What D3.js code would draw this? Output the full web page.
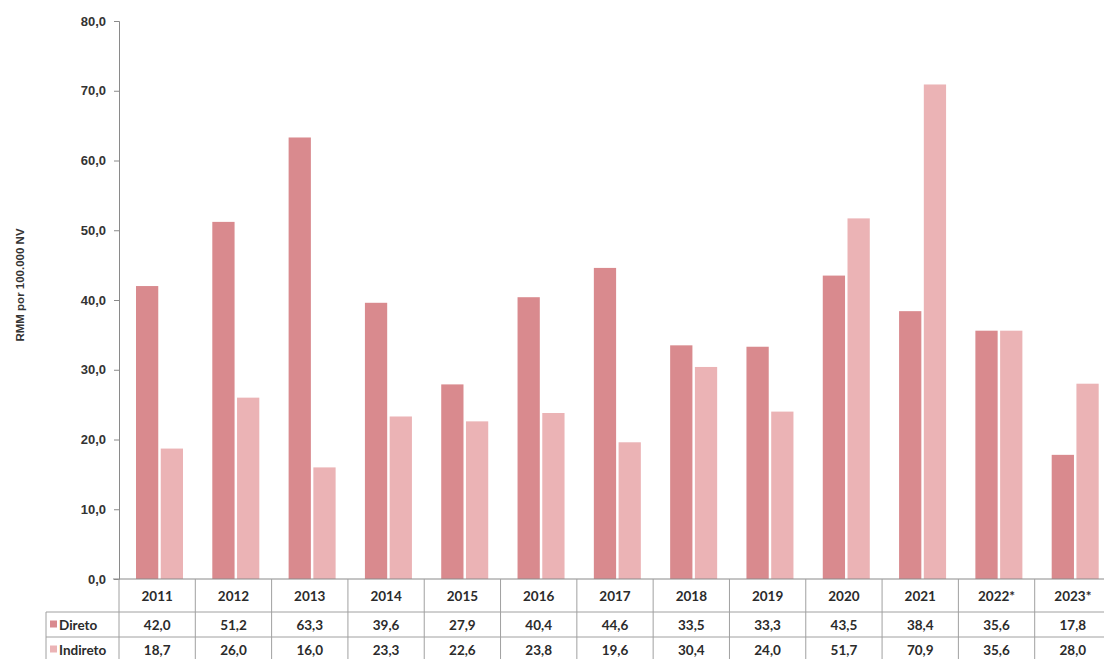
<!DOCTYPE html>
<html>
<head>
<meta charset="utf-8">
<script src="https://cdn.jsdelivr.net/npm/d3@7"></script>
<style>
  body { margin: 0; background: #fff; }
  svg { display: block; }
</style>
</head>
<body>
<script>
// dados
var anos = ["2011", "2012", "2013", "2014", "2015", "2016", "2017", "2018", "2019", "2020", "2021", "2022*", "2023*"]
var direto = [42.0, 51.2, 63.3, 39.6, 27.9, 40.4, 44.6, 33.5, 33.3, 43.5, 38.4, 35.6, 17.8]
var indireto = [18.7, 26.0, 16.0, 23.3, 22.6, 23.8, 19.6, 30.4, 24.0, 51.7, 70.9, 35.6, 28.0]
var series = ["Direto", "Indireto"]
var yTicks = [0, 10, 20, 30, 40, 50, 60, 70, 80]

var width = 1104
var height = 659
var margin = { top: 21, left: 119, right: -7, bottom: 80 }

var cores = { Direto: "#d98a8e", Indireto: "#ebb3b5" }
var fmt = function (v) { return d3.format(".1f")(v).replace(".", ",") }

var svg = d3.select("body").append("svg")
  .attr("width", width)
  .attr("height", height)

var escalaX = d3.scaleBand()
  .domain(anos)
  .range([margin.left, width - margin.right])

var escalaSub = d3.scaleBand()
  .domain(series)
  .range([17, 64])
  .paddingInner(0.1)

var escalaY = d3.scaleLinear()
  .domain([0, 80])
  .range([height - margin.bottom, margin.top])

var dados = anos.map(function (a, i) {
  return { ano: a, Direto: direto[i], Indireto: indireto[i] }
})

// barras
svg.append("g")
  .selectAll("g")
  .data(dados)
  .enter()
  .append("g")
  .attr("transform", d => "translate(" + escalaX(d.ano) + ",0)")
  .selectAll("rect")
  .data(d => series.map(s => ({ s: s, v: d[s] })))
  .enter()
  .append("rect")
  .attr("x", d => escalaSub(d.s))
  .attr("width", escalaSub.bandwidth())
  .attr("y", d => escalaY(d.v))
  .attr("height", d => escalaY(0) - escalaY(d.v))
  .attr("fill", d => cores[d.s])

// eixo y
var ejeY = d3.axisLeft(escalaY)
  .tickValues(yTicks)
  .tickFormat(fmt)
  .tickSize(5)
  .tickPadding(8)

var gY = svg.append("g")
  .attr("transform", "translate(" + margin.left + ",0)")
  .call(ejeY)
gY.select(".domain").attr("stroke", "#8a8a8a")
gY.selectAll(".tick line").attr("stroke", "#8a8a8a")
gY.selectAll("text")
  .attr("fill", "#333")
  .style("font-family", "Liberation Sans, Arial, sans-serif")
  .style("font-weight", "bold")
  .style("font-size", "13px")

svg.append("text")
  .attr("transform", "translate(24,285) rotate(-90)")
  .attr("text-anchor", "middle")
  .attr("fill", "#333")
  .style("font-family", "Liberation Sans, Arial, sans-serif")
  .style("font-weight", "bold")
  .style("font-size", "11.5px")
  .text("RMM por 100.000 NV")

// tabela de dados
var y0 = escalaY(0)
var linhas = [y0, 612, 637, 662]
var tabela = svg.append("g")
var corLinha = "#a0a0a0"

// linha base estendida
tabela.append("line")
  .attr("x1", margin.left - 6).attr("x2", width)
  .attr("y1", y0).attr("y2", y0)
  .attr("stroke", "#8a8a8a")

tabela.selectAll("line.h")
  .data(linhas.slice(1, 3))
  .enter()
  .append("line")
  .attr("x1", 46).attr("x2", width)
  .attr("y1", d => d).attr("y2", d => d)
  .attr("stroke", corLinha)

tabela.selectAll("line.v")
  .data(anos.map(a => escalaX(a)))
  .enter()
  .append("line")
  .attr("x1", d => d).attr("x2", d => d)
  .attr("y1", y0).attr("y2", height)
  .attr("stroke", corLinha)

tabela.append("line")
  .attr("x1", 46).attr("x2", 46)
  .attr("y1", linhas[1]).attr("y2", height)
  .attr("stroke", corLinha)

var estiloTxt = function (sel) {
  sel.attr("fill", "#2b2b2b")
    .style("font-family", "Lato, Open Sans, sans-serif")
    .style("font-weight", "bold")
    .style("font-size", "13.5px")
}

tabela.selectAll("text.ano")
  .data(anos)
  .enter()
  .append("text")
  .attr("x", d => escalaX(d) + escalaX.bandwidth() / 2)
  .attr("y", (y0 + linhas[1]) / 2 + 5)
  .attr("text-anchor", "middle")
  .text(d => d)
  .call(estiloTxt)

series.forEach(function (s, k) {
  var vals = s === "Direto" ? direto : indireto
  var yc = (linhas[k + 1] + linhas[k + 2]) / 2 + 5
  tabela.selectAll("text.v" + k)
    .data(vals)
    .enter()
    .append("text")
    .attr("x", (d, i) => escalaX(anos[i]) + escalaX.bandwidth() / 2)
    .attr("y", yc)
    .attr("text-anchor", "middle")
    .text(d => fmt(d))
    .call(estiloTxt)

  tabela.append("rect")
    .attr("x", 50).attr("y", yc - 9)
    .attr("width", 7).attr("height", 7)
    .attr("fill", cores[s])
  tabela.append("text")
    .attr("x", 59)
    .attr("y", yc)
    .text(s)
    .call(estiloTxt)
})
</script>
</body>
</html>
